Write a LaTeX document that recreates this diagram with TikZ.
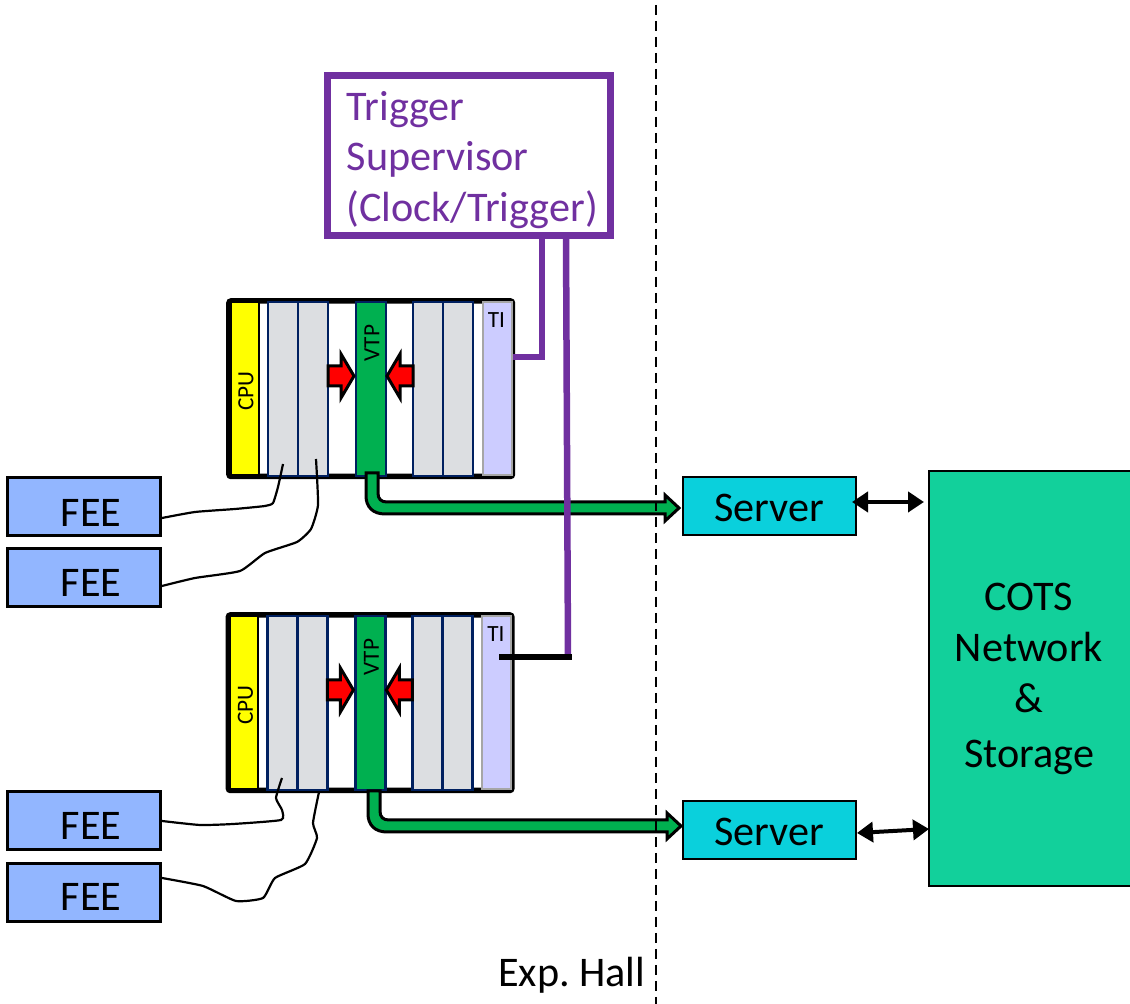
\documentclass[tikz,border=0pt]{standalone}
\usepackage{fontspec}
\setmainfont{Carlito}
\usetikzlibrary{arrows.meta}
\def\pxu{0.01cm}
\definecolor{tspurple}{RGB}{112,48,160}
\definecolor{slotgray}{RGB}{220,222,225}
\definecolor{slotnavy}{RGB}{0,32,96}
\definecolor{vtpgreen}{RGB}{0,176,80}
\definecolor{tililac}{RGB}{204,204,255}
\definecolor{feeblue}{RGB}{146,182,255}
\definecolor{servercyan}{RGB}{10,208,220}
\definecolor{cotsgreen}{RGB}{18,208,155}
\definecolor{cpuyellow}{RGB}{255,255,0}
\definecolor{arrowred}{RGB}{255,0,0}
\tikzset{
	bigtext/.style={font=\fontsize{12}{14.2}\selectfont},
	smalltext/.style={font=\fontsize{6.6}{7.8}\selectfont, inner sep=0pt},
	crate/.style={draw, fill=white, line width=5.5*\pxu, rounded corners=0.6pt, minimum width=283.5*\pxu, minimum height=175.5*\pxu, inner sep=0pt},
	slotbox/.style={draw=slotnavy, fill=#1, line width=2.8*\pxu, minimum width=30*\pxu, minimum height=174*\pxu, inner sep=0pt},
	fee/.style={draw, fill=feeblue, line width=3*\pxu, minimum width=153*\pxu, minimum height=58*\pxu, inner sep=0pt},
	server/.style={draw, fill=servercyan, line width=2.6*\pxu, minimum width=173*\pxu, minimum height=58*\pxu, inner sep=0pt},
	redarrow/.style={draw, fill=arrowred, line width=3*\pxu},
	pipe/.style={draw, fill=vtpgreen, line width=3*\pxu},
	wire/.style={line width=2.2*\pxu},
	tsline/.style={draw=tspurple, line width=6.5*\pxu},
	netlink/.style={{Triangle[width=20*\pxu,length=16*\pxu]}-{Triangle[width=20*\pxu,length=16*\pxu]}, line width=4*\pxu},
}
\begin{document}
\begin{tikzpicture}[x=\pxu, y=-\pxu]
	\useasboundingbox (0,0) rectangle (1130,1004);

	%supervisor
	\node at (469,155.5) [draw=tspurple, fill=white, line width=7*\pxu, minimum width=283*\pxu, minimum height=160*\pxu] (ts) {};
	\node at (346,160) [anchor=west, align=left, inner sep=0pt, text=tspurple, bigtext] (tstext) {Trigger\\[0.2pt]Supervisor\\[0.2pt](Clock/Trigger)};

	%crates
	\foreach \r/\dx/\dy in {a/0/0, b/-0.6/314}{
		\begin{scope}[shift={(\dx,\dy)}, name prefix=\r-]
			\node at (370.7,388.7) [crate] (crate) {};
			\node at (244.5,388.5) [draw, fill=cpuyellow, line width=2*\pxu, minimum width=28*\pxu, minimum height=173*\pxu, inner sep=0pt] (cpu) {};
			\node at (497.5,388.5) [draw=gray!70, fill=tililac, line width=2*\pxu, minimum width=29*\pxu, minimum height=173*\pxu, inner sep=0pt] (ti) {};
			\foreach \x/\n in {283/s1, 313/s2, 428/s3, 458/s4}{
				\node at (\x,389) [slotbox=slotgray] (\n) {};
			}
			\node at (371,389) [slotbox=vtpgreen] (vtp) {};

			\node at (246,391) [rotate=90, smalltext] (cputext) {CPU};
			\node at (372,343) [rotate=90, smalltext] (vtptext) {VTP};
			\node at (496.5,320) [smalltext] (titext) {TI};

			%arrows into the VTP
			\draw[redarrow] (328,366) -- (341,366) -- (341,354) -- (354,376) -- (341,398) -- (341,386) -- (328,386) -- cycle;
			\draw[redarrow] (413,366) -- (400,366) -- (400,354) -- (387,376) -- (400,398) -- (400,386) -- (413,386) -- cycle;
		\end{scope}
	}

	%readout pipes
	\foreach \dx/\dy in {0/0, 2/318}{
		\begin{scope}[shift={(\dx,\dy)}]
			\draw[pipe] (366,473) -- (378,473) -- (378,493) .. controls (378,499) and (381,502) .. (387,502)
				-- (665,502) -- (665,495) -- (679,508) -- (665,521) -- (665,514) -- (385,514)
				.. controls (373,514) and (366,507) .. (366,496) -- cycle;
		\end{scope}
	}

	%front end
	\foreach \n/\y/\ty in {1/506.5/513, 2/578/583, 3/821/826, 4/893/897}{
		\node at (84,\y) [fee] (fee\n) {};
		\node at (91,\ty) [inner sep=0pt, bigtext] (feetext\n) {FEE};
	}
	\coordinate (w1) at (162,518);
	\coordinate (w2) at (162,586);
	\coordinate (w4) at (162,878);
	\draw[wire] plot[smooth, tension=0.3] coordinates {(w1) (195,512) (235,509) (265,506) (273,503) (278,487) (283,464)};
	\draw[wire] plot[smooth, tension=0.3] coordinates {(w2) (195,578) (240,571) (265,553) (297,542) (311,529) (318,505) (316,459)};
	\draw[wire] plot[smooth, tension=0.3] coordinates {(fee3.east) (200,825) (233,824) (281,820) (282,810) (276,798) (282,778)};
	\draw[wire] plot[smooth, tension=0.3] coordinates {(w4) (203,886) (236,901) (263,898) (275,878) (305,864) (317,838) (313,823) (319,792)};

	%clock and trigger lines
	\coordinate (t1) at (542,236);
	\coordinate (t2) at (566,236);
	\coordinate (k1) at (542,357);
	\coordinate (k2) at (513,357);
	\coordinate (k3) at (568,657);
	\coordinate (k4) at (499,657);
	\coordinate (k5) at (572,657);
	\draw[tsline] (t1) -- (k1) -- (k2);
	\draw[tsline] (t2) -- (k3);
	\draw[line width=6.5*\pxu] (k4) -- (k5);

	%hall boundary
	\coordinate (h1) at (656,5);
	\coordinate (h2) at (656,1004);
	\draw[line width=2.7*\pxu, dash pattern=on 10*\pxu off 6*\pxu] (h1) -- (h2);
	\node at (646,975) [anchor=east, inner sep=0pt, bigtext] (hall) {Exp.\ Hall};

	%servers and storage
	\node at (769.5,506) [server] (srv1) {};
	\node at (769,508) [inner sep=0pt, bigtext] (srvtext1) {Server};
	\node at (769.5,830) [server] (srv2) {};
	\node at (769,832) [inner sep=0pt, bigtext] (srvtext2) {Server};
	\node at (1032,678.5) [draw, fill=cotsgreen, line width=2.6*\pxu, minimum width=206*\pxu, minimum height=415*\pxu, inner sep=0pt] (cots) {};
	\node at (1029,679) [align=center, inner sep=0pt, bigtext] (cotstext) {COTS\\[0.2pt]Network\\[0.2pt]\&\\[1.4pt]Storage};
	\coordinate (n1) at (852,502);
	\coordinate (n2) at (924,502);
	\coordinate (n3) at (857,833);
	\coordinate (n4) at (929,829);
	\draw[netlink] (n1) -- (n2);
	\draw[netlink] (n3) -- (n4);
\end{tikzpicture}
\end{document}
